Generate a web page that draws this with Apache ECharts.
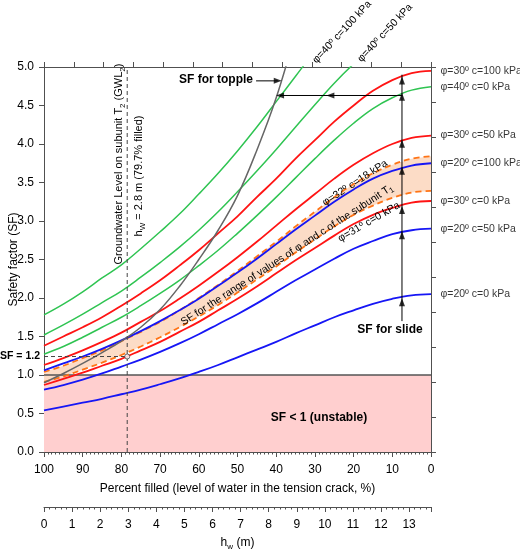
<!DOCTYPE html>
<html><head><meta charset="utf-8">
<script src="https://cdn.jsdelivr.net/npm/echarts@6/dist/echarts.min.js"></script>
<style>html,body{margin:0;padding:0;background:#fff}#c{width:520px;height:551px}</style>
</head><body><div id="c"></div>
<script>
// ---- data (percent filled of tension crack vs safety factor) ----
const percent   = [100,95,90,85,80,75,70,65,60,55,50,45,40,35,30,25,20,15,10,5,0];
const phi40c100 = [1.78,1.92,2.08,2.26,2.43,2.64,2.86,3.09,3.35,3.62,3.91,4.22,4.55,4.88,5.21,5.53,5.82,6.06,6.25,6.38,6.43];
const phi40c50  = [1.52,1.65,1.79,1.94,2.09,2.27,2.46,2.66,2.88,3.12,3.38,3.65,3.93,4.22,4.51,4.79,5.04,5.26,5.43,5.54,5.59];
const phi40c0   = [1.27,1.37,1.49,1.62,1.75,1.90,2.06,2.23,2.42,2.62,2.84,3.07,3.31,3.56,3.81,4.05,4.27,4.46,4.60,4.70,4.745];
const phi30c100 = [1.38,1.50,1.62,1.75,1.90,2.06,2.23,2.42,2.62,2.84,3.06,3.31,3.55,3.81,4.05,4.29,4.50,4.69,4.83,4.92,4.95];
const phi30c50  = [1.13,1.22,1.32,1.43,1.55,1.69,1.83,1.99,2.16,2.34,2.53,2.73,2.94,3.15,3.35,3.55,3.73,3.88,4.00,4.08,4.11];
const phi30c0   = [0.87,0.95,1.03,1.12,1.21,1.32,1.43,1.56,1.69,1.84,1.99,2.15,2.32,2.49,2.65,2.81,2.96,3.08,3.17,3.24,3.26];
const phi20c100 = [1.06,1.15,1.24,1.34,1.45,1.57,1.70,1.84,1.99,2.16,2.33,2.51,2.70,2.89,3.07,3.25,3.41,3.55,3.65,3.72,3.75];
const phi20c50  = [0.81,0.87,0.94,1.02,1.11,1.20,1.30,1.41,1.53,1.66,1.79,1.93,2.08,2.23,2.37,2.51,2.64,2.74,2.83,2.88,2.90];
const phi20c0   = [0.54,0.59,0.64,0.69,0.75,0.81,0.88,0.955,1.04,1.13,1.23,1.33,1.43,1.54,1.645,1.75,1.84,1.925,1.99,2.035,2.05];
const t1Upper   = [1.04,1.12,1.22,1.32,1.44,1.56,1.69,1.84,2.00,2.17,2.35,2.54,2.73,2.93,3.12,3.31,3.48,3.62,3.73,3.81,3.84]; // phi=32 c=18
const t1Lower   = [0.91,0.98,1.07,1.16,1.26,1.37,1.49,1.62,1.76,1.91,2.07,2.24,2.41,2.59,2.76,2.93,3.08,3.20,3.30,3.37,3.39]; // phi=31 c=0
const topplePercent = [100,95,90,85,80,75,70,65,60,55,50,45,40,35];
const toppleSF      = [0.90,1.02,1.15,1.29,1.44,1.62,1.85,2.15,2.50,2.88,3.33,3.92,4.60,5.45];

const unstableLimit = 1.0;
const gwlPercent = 78.5;
const gwlSF = 1.24;
const slidePercent = 7.5;
const slideRange = [1.7, 4.9];
const slideHeads = [4.85, 4.64, 4.03, 3.68, 3.17, 2.84, 1.97];
const toppleArrowSF = 4.63;
const toppleArrowRange = [7.5, 39.0];
const toppleArrowHeads = [39.0, 26.0];
const toppleLabelSF = 4.82;
const toppleLabelRange = [45.2, 39.6];

const xTicksPercent = [0, 100, 10];
const hwMax = 13.78;

const FONT = '"Liberation Sans", Arial, Helvetica, sans-serif';
const GREEN = '#2fc452', RED = '#ff1414', BLUE = '#1616f5', ORANGE = '#ff7416', GRAY = '#666666', AX = '#505050';

function pairs(xs, ys){ return xs.map((x,i)=>[x, ys[i]]); }

const curveDefs = [
  {name:'φ=40º c=100 kPa', data:phi40c100, color:GREEN, w:1.5, label:false},
  {name:'φ=40º c=50 kPa',  data:phi40c50,  color:GREEN, w:1.5, label:false},
  {name:'φ=40º c=0 kPa',   data:phi40c0,   color:GREEN, w:1.5, label:true},
  {name:'φ=30º c=100 kPa', data:phi30c100, color:RED,   w:1.8, label:true},
  {name:'φ=30º c=50 kPa',  data:phi30c50,  color:RED,   w:1.8, label:true},
  {name:'φ=30º c=0 kPa',   data:phi30c0,   color:RED,   w:1.8, label:true},
  {name:'φ=20º c=100 kPa', data:phi20c100, color:BLUE,  w:1.8, label:true},
  {name:'φ=20º c=50 kPa',  data:phi20c50,  color:BLUE,  w:1.8, label:true},
  {name:'φ=20º c=0 kPa',   data:phi20c0,   color:BLUE,  w:1.8, label:true}
];

const series = [];
// unstable zone
series.push({type:'line', data:[[100,unstableLimit],[0,unstableLimit]], symbol:'none', z:1,
  lineStyle:{color:'#555', width:1.3}, areaStyle:{color:'#ffcfcf', opacity:1, origin:'start'}, silent:true});
// band for subunit T1
series.push({type:'custom', data:[[50,2]], z:1, silent:true, clip:true,
  renderItem:function(params, api){
    const pts=[];
    for(let i=0;i<percent.length;i++) pts.push(api.coord([percent[i], t1Upper[i]]));
    for(let i=percent.length-1;i>=0;i--) pts.push(api.coord([percent[i], t1Lower[i]]));
    return {type:'polygon', shape:{points:pts}, style:{fill:'#fcdcc6'}};
  }});
// dashed orange bounds
[t1Upper, t1Lower].forEach(arr=>series.push({type:'line', data:pairs(percent, arr), symbol:'none', smooth:0.4, z:3,
  lineStyle:{color:ORANGE, width:1.8, type:[6,4]}}));
// main curves
curveDefs.forEach(c=>series.push({type:'line', name:c.name, data:pairs(percent, c.data), symbol:'none', smooth:0.4, z:4,
  lineStyle:{color:c.color, width:c.w}}));
// right-hand curve labels, anchored at each curve's end value
series.push({type:'scatter', z:7, silent:true, symbol:'circle', symbolSize:1, itemStyle:{color:'rgba(0,0,0,0)'},
  data:curveDefs.filter(c=>c.label).map(c=>({value:[percent[percent.length-1], c.data[c.data.length-1]], name:c.name})),
  label:{show:true, position:'right', distance:9, formatter:p=>p.name, fontSize:10.5, fontFamily:FONT, color:'#000'}});
// topple curve
series.push({type:'line', data:pairs(topplePercent, toppleSF), symbol:'none', smooth:0.4, z:4, lineStyle:{color:GRAY, width:1.5}});
// groundwater level
series.push({type:'line', data:[[gwlPercent,0],[gwlPercent,5]], symbol:'none', z:5, lineStyle:{color:'#444', width:1, type:[4,3]}});
series.push({type:'line', data:[[100,gwlSF],[gwlPercent,gwlSF]], symbol:'none', z:5, lineStyle:{color:'#444', width:1, type:[4,3]}});
series.push({type:'scatter', data:[[gwlPercent,gwlSF]], symbol:'circle', symbolSize:5, z:6,
  itemStyle:{color:'#fff', borderColor:'#444', borderWidth:1}});
// slide arrow
series.push({type:'line', data:[[slidePercent,slideRange[0]],[slidePercent,slideRange[1]]], symbol:'none', z:6, lineStyle:{color:'#000', width:1}});
series.push({type:'scatter', data:slideHeads.map(v=>[slidePercent,v]), symbol:'triangle', symbolSize:[6,8], symbolOffset:[0,2], z:6, itemStyle:{color:'#000'}});
// topple arrows
series.push({type:'line', data:[[toppleArrowRange[0],toppleArrowSF],[toppleArrowRange[1],toppleArrowSF]], symbol:'none', z:6, lineStyle:{color:'#000', width:1}});
series.push({type:'scatter', data:toppleArrowHeads.map(p=>[p,toppleArrowSF]), symbol:'triangle', symbolSize:[6,8], symbolRotate:90, z:6, itemStyle:{color:'#000'}});
series.push({type:'line', data:[[toppleLabelRange[0],toppleLabelSF],[toppleLabelRange[1],toppleLabelSF]], symbol:'none', z:6, lineStyle:{color:'#000', width:1}});
series.push({type:'scatter', data:[[toppleLabelRange[1],toppleLabelSF]], symbol:'triangle', symbolSize:[6,8], symbolRotate:-90, z:6, itemStyle:{color:'#000'}});

const axisCommon = {
  axisLine:{show:true, onZero:false, lineStyle:{color:AX, width:1}},
  axisTick:{show:true, length:5, lineStyle:{color:AX}},
  splitLine:{show:false}
};
const labelStyle = {color:'#000', fontSize:12, fontFamily:FONT};

function txt(text, x, y, opts){
  opts = opts || {};
  return {type:'text', x:x, y:y, rotation:(opts.rot||0)*Math.PI/180, z:100,
    style:Object.assign({text:text, fill:'#000', fontSize:opts.size||11, fontFamily:FONT,
      fontWeight:opts.bold?'bold':'normal', align:'center', verticalAlign:'middle'}, opts.rich?{rich:opts.rich}:{})};
}
const subRich = {n:{fontSize:11, fontFamily:FONT, lineHeight:15}, s:{fontSize:8, fontFamily:FONT, verticalAlign:'bottom'}};
const subRichSm = {n:{fontSize:10.5, fontFamily:FONT, lineHeight:14}, s:{fontSize:7.5, fontFamily:FONT, verticalAlign:'bottom'}};

const option = {
  animation:false,
  backgroundColor:'#fff',
  grid:{left:44, right:89, top:67, bottom:99, containLabel:false, outerBoundsMode:'none'},
  xAxis:[
    Object.assign({}, axisCommon, {type:'value', min:xTicksPercent[0], max:xTicksPercent[1], interval:xTicksPercent[2], inverse:true, position:'bottom',
      minorTick:{show:true, splitNumber:10, length:2.5, lineStyle:{color:AX}}, minorSplitLine:{show:false},
      axisLabel:Object.assign({margin:12}, labelStyle),
      name:'Percent filled (level of water in the tension crack, %)', nameLocation:'middle', nameGap:31, nameMoveOverlap:false,
      nameTextStyle:{color:'#000', fontSize:12, fontFamily:FONT}}),
    Object.assign({}, axisCommon, {type:'value', min:0, max:hwMax, interval:1, position:'bottom', offset:55,
      minorTick:{show:true, splitNumber:5, length:2.5, lineStyle:{color:AX}}, minorSplitLine:{show:false},
      axisLabel:Object.assign({margin:12, showMaxLabel:false}, labelStyle),
      name:'{a|h}{s|w}{a| (m)}', nameLocation:'middle', nameGap:28, nameMoveOverlap:false,
      nameTextStyle:{color:'#000', fontSize:12, fontFamily:FONT,
        rich:{a:{fontSize:12, fontFamily:FONT, lineHeight:16}, s:{fontSize:8, fontFamily:FONT, verticalAlign:'bottom'}}}}),
    Object.assign({}, axisCommon, {type:'value', min:0, max:13, interval:1, position:'top', axisLabel:{show:false}})
  ],
  yAxis:[
    Object.assign({}, axisCommon, {type:'value', min:0, max:5, interval:0.5, position:'left',
      axisLabel:Object.assign({margin:10, formatter:v=>v.toFixed(1)}, labelStyle),
      name:'Safety factor (SF)', nameLocation:'middle', nameGap:24, nameRotate:90, nameMoveOverlap:false,
      nameTextStyle:{color:'#000', fontSize:12, fontFamily:FONT}}),
    Object.assign({}, axisCommon, {type:'value', min:0, max:11, interval:1, position:'right', axisLabel:{show:false}})
  ],
  series:series,
  graphic:[
    txt('φ=40º c=100 kPa', 342, 32, {rot:47, size:10.5}),
    txt('φ=40º c=50 kPa', 385, 33, {rot:47, size:10.5}),
    txt('SF for topple', 216, 80, {bold:true, size:12}),
    txt('SF for slide', 390, 330, {bold:true, size:12}),
    txt('SF < 1 (unstable)', 319, 418, {bold:true, size:12}),
    txt('SF = 1.2', 20, 356, {bold:true, size:10.5}),
    txt('{n|Groundwater Level on subunit T}{s|2}{n| (GWL}{s|2}{n|)}', 119, 164, {rot:90, rich:subRich}),
    txt('{n|h}{s|W}{n| = 2.8 m (79.7% filled)}', 139, 176, {rot:90, rich:subRich}),
    txt('{n|SF for the range of values of φ and c of the subunit T}{s|1}', 287, 255, {rot:33, rich:subRichSm}),
    txt('φ=32º c=18 kPa', 355, 183, {rot:33, size:10.5}),
    txt('φ=31º c=0 kPa', 369, 222, {rot:30, size:10.5})
  ]
};
const chart = echarts.init(document.getElementById('c'), null, {renderer:'canvas'});
chart.setOption(option);
</script>
</body></html>
